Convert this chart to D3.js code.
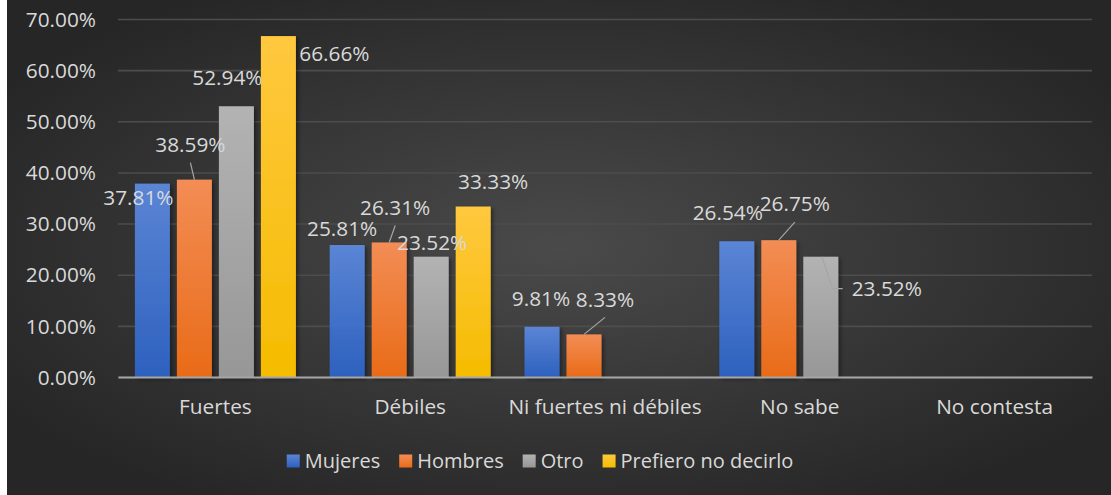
<!DOCTYPE html>
<html>
<head>
<meta charset="utf-8">
<script src="https://cdn.jsdelivr.net/npm/d3@7/dist/d3.min.js"></script>
<style>
  html, body { margin: 0; padding: 0; background: #ffffff; }
  svg { display: block; }
  text { font-family: "Open Sans", "Noto Sans", sans-serif; }
</style>
</head>
<body>
<svg id="chart" width="1111" height="495"></svg>
<script>
// ---- data ----
const categories = ["Fuertes", "Débiles", "Ni fuertes ni débiles", "No sabe", "No contesta"];
const seriesNames = ["Mujeres", "Hombres", "Otro", "Prefiero no decirlo"];
const mujeres  = [37.81, 25.81, 9.81, 26.54, 0];
const hombres  = [38.59, 26.31, 8.33, 26.75, 0];
const otro     = [52.94, 23.52, 0, 23.52, 0];
const prefiero = [66.66, 33.33, 0, 0, 0];
const yTickValues = [0, 10, 20, 30, 40, 50, 60, 70];

// ---- styles / layout (not data) ----
const seriesColors = [
  ["#5b85d5", "#2d61be"],
  ["#f38d55", "#e96b18"],
  ["#b3b3b3", "#979797"],
  ["#ffc83f", "#f5bc00"]
];
// label offsets relative to (bar centre, bar top): [dx, dy, leader]
const labelLayout = [
  [[-14, 14, ""], [-5, -16, ""], [-1, -28, ""], [-9, -29, ""], null],
  [[-4, -35, "line"], [6, -35, "line"], [21, -35, "line"], [16, -36, "line"], null],
  [[-9, -29, ""], [1, -14, ""], null, [66, 32, "elbow"], null],
  [[56, 18, ""], [20, -25, ""], null, null, null]
];

const seriesValues = [mujeres, hombres, otro, prefiero];
const W = 1111, H = 495;
const FS = 20.8;
const svg = d3.select("#chart");
const defs = svg.append("defs");

// background radial gradient
const bg = defs.append("radialGradient").attr("id", "bgGrad")
  .attr("cx", "50%").attr("cy", "50%").attr("r", "60%");
bg.append("stop").attr("offset", "0%").attr("stop-color", "#4a4a4a");
bg.append("stop").attr("offset", "100%").attr("stop-color", "#262626");
svg.append("rect").attr("x", 7).attr("y", 0).attr("width", W - 7).attr("height", H)
  .attr("fill", "url(#bgGrad)");

seriesColors.forEach((c, i) => {
  const g = defs.append("linearGradient").attr("id", "barGrad" + i)
    .attr("x1", 0).attr("y1", 0).attr("x2", 0).attr("y2", 1);
  g.append("stop").attr("offset", "0%").attr("stop-color", c[0]);
  g.append("stop").attr("offset", "100%").attr("stop-color", c[1]);
});
const sh = defs.append("filter").attr("id", "shadow")
  .attr("x", "-20%").attr("y", "-20%").attr("width", "150%").attr("height", "150%");
sh.append("feDropShadow").attr("dx", 2).attr("dy", 2).attr("stdDeviation", 2)
  .attr("flood-color", "#000").attr("flood-opacity", 0.45);

const plotLeft = 118, plotRight = 1092, plotTop = 19, plotBottom = 377;
const x0 = d3.scaleBand().domain(categories).range([plotLeft, plotRight]).padding(0);
const barW = 35, barStep = 42;
const x1 = d3.scaleBand().domain(seriesNames)
  .range([-barStep * 2 + (barStep - barW) / 2, barStep * 2 - (barStep - barW) / 2])
  .paddingInner((barStep - barW) / barStep).paddingOuter(0);
const y = d3.scaleLinear().domain([0, 70]).range([plotBottom, plotTop]);

// gridlines
const yAxis = d3.axisLeft(y).tickValues(yTickValues)
  .tickSize(-(plotRight - plotLeft)).tickPadding(22)
  .tickFormat(d => d.toFixed(2) + "%");
const gy = svg.append("g").attr("transform", `translate(${plotLeft},0)`).call(yAxis);
gy.select(".domain").remove();
gy.selectAll(".tick line").attr("stroke", "#4d4d4d").attr("stroke-width", 1.6);
gy.selectAll(".tick text").attr("fill", "#d9d9d9").attr("font-size", FS)
  .attr("dy", "0.35em");

// bars
seriesNames.forEach((s, si) => {
  const g = svg.append("g").attr("filter", "url(#shadow)");
  g.selectAll("rect").data(categories.map((c, ci) => ({ c, v: seriesValues[si][ci] })))
    .join("rect")
    .attr("x", d => x0(d.c) + x0.bandwidth() / 2 + x1(s))
    .attr("y", d => y(d.v))
    .attr("width", x1.bandwidth())
    .attr("height", d => y(0) - y(d.v))
    .attr("fill", `url(#barGrad${si})`);
});

// x axis baseline
const xAxis = d3.axisBottom(x0).tickSize(0).tickPadding(22);
const gx = svg.append("g").attr("transform", `translate(0,${plotBottom})`).call(xAxis);
gx.select(".domain").attr("stroke", "#a6a6a6").attr("stroke-width", 2);
gx.selectAll(".tick text").attr("fill", "#d9d9d9").attr("font-size", FS)
  .attr("dy", "0.35em").attr("y", 30);

// data labels
const lg = svg.append("g");
seriesNames.forEach((s, si) => {
  categories.forEach((c, ci) => {
    const v = seriesValues[si][ci];
    const lay = labelLayout[si][ci];
    if (!lay || v === 0) return;
    const bx = x0(c) + x0.bandwidth() / 2 + x1(s) + x1.bandwidth() / 2;
    const by = y(v);
    const lx = bx + lay[0], ly = by + lay[1];
    const t = lg.append("text").attr("x", lx).attr("y", ly).attr("dy", "0.35em")
      .attr("text-anchor", "middle").attr("fill", "#d9d9d9").attr("font-size", FS)
      .text(v.toFixed(2) + "%");
    if (lay[2] === "line") {
      lg.append("line").attr("x1", lx).attr("y1", ly + 18).attr("x2", bx).attr("y2", by)
        .attr("stroke", "#a6a6a6").attr("stroke-width", 1.2);
    } else if (lay[2] === "elbow") {
      const w = t.node().getComputedTextLength();
      const left = lx - w / 2;
      lg.append("polyline")
        .attr("points", `${left - 9},${ly} ${left - 19},${ly} ${bx + 1},${by}`)
        .attr("fill", "none").attr("stroke", "#a6a6a6").attr("stroke-width", 1.2);
    }
  });
});

// legend
const leg = svg.append("g");
let cx = 0;
const legGap = 19;
seriesNames.forEach((s, si) => {
  const g = leg.append("g");
  g.append("rect").attr("x", cx).attr("y", -6.5).attr("width", 13).attr("height", 13)
    .attr("fill", `url(#barGrad${si})`);
  const t = g.append("text").attr("x", cx + 18).attr("y", 0).attr("dy", "0.35em")
    .attr("fill", "#d9d9d9").attr("font-size", 20).text(s);
  cx += 18 + t.node().getComputedTextLength() + legGap;
});
const legW = cx - legGap;
leg.attr("transform", `translate(${540 - legW / 2},461)`);
</script>
</body>
</html>
